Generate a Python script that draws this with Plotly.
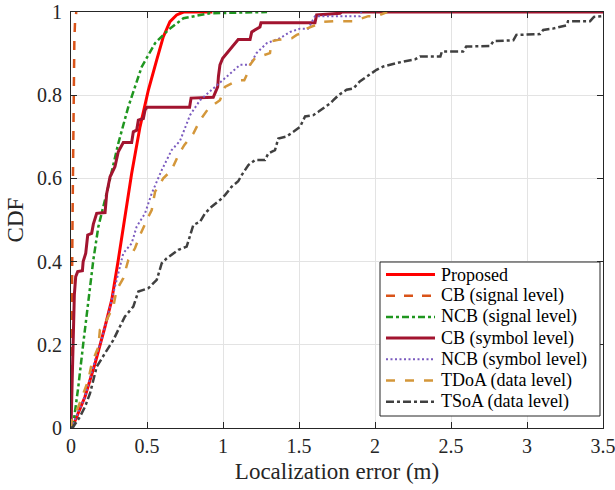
import plotly.graph_objects as go

# ---------------- data ----------------
proposed_x = [0, 0.015, 0.092, 0.158, 0.224, 0.268, 0.311, 0.344, 0.366, 0.399, 0.454, 0.509, 0.564, 0.607, 0.651, 0.695, 0.74, 0.93]
proposed_y = [0, 0.007, 0.075, 0.155, 0.244, 0.308, 0.404, 0.484, 0.53, 0.612, 0.724, 0.8125, 0.885, 0.94, 0.977, 0.993, 1.0, 1.0]

cb_sig_x = [0, 0.003, 0.006, 0.01, 0.014, 0.018, 0.022, 0.027, 0.035]
cb_sig_y = [0, 0.1, 0.3, 0.5, 0.7, 0.85, 0.93, 0.98, 1.0]

ncb_sig_x = [0.012, 0.048, 0.081, 0.114, 0.147, 0.18, 0.2, 0.245, 0.311, 0.377, 0.465, 0.553, 0.64, 0.74, 0.914, 1.29]
ncb_sig_y = [0, 0.099, 0.204, 0.30, 0.404, 0.484, 0.512, 0.58, 0.684, 0.772, 0.868, 0.925, 0.957, 0.985, 0.997, 1.0]

cb_sym_x = [0, 0.004, 0.015, 0.022, 0.031, 0.044, 0.075, 0.08, 0.097, 0.11, 0.136, 0.147, 0.169, 0.224, 0.235,
            0.257, 0.289, 0.311, 0.344, 0.399, 0.41, 0.432, 0.443, 0.476, 0.487, 0.5, 0.78, 0.79, 0.936, 0.965,
            0.97, 0.98, 0.998, 1.024, 1.046, 1.079, 1.1, 1.178, 1.189, 1.243, 1.25, 1.605, 1.616, 1.77, 1.78, 3.5]
cb_sym_y = [0, 0.075, 0.2, 0.32, 0.364, 0.376, 0.378, 0.40, 0.42, 0.464, 0.468, 0.49, 0.516, 0.518, 0.564,
            0.604, 0.628, 0.664, 0.686, 0.686, 0.712, 0.716, 0.74, 0.744, 0.764, 0.771, 0.771, 0.793, 0.795, 0.82,
            0.845, 0.873, 0.889, 0.901, 0.909, 0.925, 0.934, 0.934, 0.952, 0.964, 0.974, 0.974, 0.993, 0.997, 1.0, 1.0]

ncb_sym_x = [0, 0.015, 0.092, 0.158, 0.213, 0.268, 0.311, 0.344, 0.399, 0.432, 0.487, 0.531, 0.597, 0.662, 0.717,
             0.783, 0.849, 0.936, 1.0, 1.068, 1.112, 1.178, 1.22, 1.288, 1.375, 1.441, 1.507, 1.56, 1.605, 1.9, 1.91]
ncb_sym_y = [0, 0.011, 0.075, 0.163, 0.228, 0.308, 0.372, 0.42, 0.444, 0.484, 0.516, 0.564, 0.62, 0.668, 0.69,
             0.752, 0.788, 0.816, 0.836, 0.857, 0.873, 0.873, 0.901, 0.925, 0.937, 0.952, 0.96, 0.96, 0.99, 0.99, 1.0]

tdoa_x = [0, 0.004, 0.048, 0.114, 0.136, 0.18, 0.19, 0.235, 0.279, 0.3, 0.344, 0.377, 0.421, 0.454, 0.52, 0.531,
          0.553, 0.607, 0.662, 0.706, 0.745, 0.805, 0.849, 0.904, 0.98, 1.013, 1.1, 1.14, 1.167, 1.178, 1.21, 1.243,
          1.309, 1.32, 1.364, 1.452, 1.485, 1.54, 1.55, 1.638, 1.65, 1.726, 1.857, 1.956, 2.01, 2.08]
tdoa_y = [0, 0.019, 0.051, 0.115, 0.155, 0.195, 0.236, 0.26, 0.292, 0.332, 0.36, 0.404, 0.432, 0.464, 0.516, 0.524,
          0.568, 0.6, 0.62, 0.656, 0.68, 0.708, 0.74, 0.768, 0.788, 0.82, 0.836, 0.836, 0.857, 0.873, 0.889, 0.893,
          0.901, 0.93, 0.933, 0.937, 0.945, 0.952, 0.96, 0.973, 0.976, 0.978, 0.978, 0.99, 0.99, 1.0]

tsoa_x = [0, 0.015, 0.059, 0.092, 0.125, 0.169, 0.224, 0.278, 0.311, 0.355, 0.41, 0.443, 0.509, 0.564, 0.597,
          0.63, 0.706, 0.761, 0.805, 0.849, 0.882, 0.925, 0.98, 1.013, 1.057, 1.1, 1.123, 1.167, 1.211, 1.276,
          1.298, 1.342, 1.364, 1.419, 1.463, 1.507, 1.54, 1.594, 1.627, 1.66, 1.704, 1.726, 1.76, 1.813, 1.857,
          1.9, 1.945, 2.01, 2.055, 2.099, 2.175, 2.263, 2.296, 2.43, 2.44, 2.58, 2.6, 2.757, 2.78, 2.91,
          2.93, 3.086, 3.107, 3.17, 3.26, 3.27, 3.415, 3.44, 3.5]
tsoa_y = [0, 0.003, 0.027, 0.051, 0.083, 0.147, 0.18, 0.211, 0.236, 0.268, 0.292, 0.328, 0.336, 0.356, 0.396,
          0.408, 0.428, 0.436, 0.488, 0.496, 0.516, 0.532, 0.548, 0.56, 0.58, 0.593, 0.608, 0.632, 0.644, 0.644,
          0.66, 0.668, 0.696, 0.701, 0.712, 0.724, 0.749, 0.752, 0.76, 0.768, 0.78, 0.788, 0.8, 0.813, 0.816,
          0.833, 0.845, 0.861, 0.869, 0.873, 0.88, 0.886, 0.893, 0.893, 0.905, 0.905, 0.917, 0.918, 0.93, 0.932,
          0.945, 0.947, 0.957, 0.96, 0.968, 0.978, 0.978, 0.988, 0.99]

series_names = ["Proposed", "CB (signal level)", "NCB (signal level)", "CB (symbol level)",
                "NCB (symbol level)", "TDoA (data level)", "TSoA (data level)"]

x_tickvals = [0, 0.5, 1, 1.5, 2, 2.5, 3, 3.5]
x_ticktext = ["0", "0.5", "1", "1.5", "2", "2.5", "3", "3.5"]
y_tickvals = [0, 0.2, 0.4, 0.6, 0.8, 1]
y_ticktext = ["0", "0.2", "0.4", "0.6", "0.8", "1"]

# ---------------- styles ----------------
styles = [
    dict(color="#FF0000", width=3, dash="solid"),
    dict(color="#D95319", width=2.5, dash="9px,9px"),
    dict(color="#1F961F", width=2.5, dash="7px,3px,3px,3px"),
    dict(color="#A2142F", width=3, dash="solid"),
    dict(color="#7B5BBF", width=2, dash="2px,2.5px"),
    dict(color="#D4973A", width=2.5, dash="9px,10px"),
    dict(color="#404040", width=2.5, dash="8px,3px,3px,3px"),
]

data = [
    (proposed_x, proposed_y),
    (cb_sig_x, cb_sig_y),
    (ncb_sig_x, ncb_sig_y),
    (cb_sym_x, cb_sym_y),
    (ncb_sym_x, ncb_sym_y),
    (tdoa_x, tdoa_y),
    (tsoa_x, tsoa_y),
]

for (xs, ys) in data:
    assert len(xs) == len(ys), (len(xs), len(ys))

fig = go.Figure()
for name, (xs, ys), st in zip(series_names, data, styles):
    fig.add_trace(go.Scatter(x=xs, y=ys, mode="lines", name=name, line=st, showlegend=False))

FONT = "Liberation Serif, Times New Roman, serif"
AXC = "#262626"

# plot-area geometry (pixels)
W, H = 615, 490
ML, MR, MT, MB = 71, 12, 12, 62
PW, PH = W - ML - MR, H - MT - MB


def px_to_paper(px, py):
    return (px - ML) / PW, (H - MB - py) / PH


# ---------------- legend box (drawn in paper coordinates) ----------------
leg_left, leg_right, leg_top, leg_bot = 380, 600, 262, 416
x0, y0 = px_to_paper(leg_left, leg_bot)
x1, y1 = px_to_paper(leg_right, leg_top)
shapes = [dict(type="rect", xref="paper", yref="paper", x0=x0, y0=y0, x1=x1, y1=y1,
               line=dict(color=AXC, width=1), fillcolor="white", layer="above")]
annotations = []
row_y0, row_step = 274.5, 21.2
for i, (name, st) in enumerate(zip(series_names, styles)):
    py = row_y0 + i * row_step
    lx0, ly = px_to_paper(386, py)
    lx1, _ = px_to_paper(435, py)
    shapes.append(dict(type="line", xref="paper", yref="paper", x0=lx0, x1=lx1, y0=ly, y1=ly,
                       line=dict(color=st["color"], width=st["width"], dash=st["dash"]), layer="above"))
    tx, _ = px_to_paper(439, py)
    annotations.append(dict(xref="paper", yref="paper", x=tx, y=ly, xanchor="left", yanchor="middle",
                            text=name, showarrow=False,
                            font=dict(family=FONT, size=18, color="black")))

fig.update_layout(
    width=W, height=H,
    margin=dict(l=ML, r=MR, t=MT, b=MB, autoexpand=False),
    paper_bgcolor="white", plot_bgcolor="white",
    font=dict(family=FONT, color=AXC, size=20),
    showlegend=False,
    shapes=shapes,
    annotations=annotations,
)

fig.update_xaxes(
    range=[0, 3.5], tickvals=x_tickvals, ticktext=x_ticktext, automargin=False,
    ticklabeloverflow="allow",
    ticks="inside", ticklen=6, tickcolor=AXC, showline=True, linecolor=AXC, linewidth=1,
    mirror="ticks", showgrid=True, gridcolor="#E3E3E3", gridwidth=1, zeroline=False,
    tickfont=dict(family=FONT, size=20, color=AXC),
    title=dict(text="Localization error (m)", font=dict(family=FONT, size=23, color=AXC), standoff=6),
)
fig.update_yaxes(
    range=[0, 1], tickvals=y_tickvals, ticktext=y_ticktext, automargin=False,
    ticklabeloverflow="allow",
    ticks="inside", ticklen=6, tickcolor=AXC, showline=True, linecolor=AXC, linewidth=1,
    mirror="ticks", showgrid=True, gridcolor="#E3E3E3", gridwidth=1, zeroline=False,
    tickfont=dict(family=FONT, size=20, color=AXC), ticklabelstandoff=4,
    title=dict(text="CDF", font=dict(family=FONT, size=23, color=AXC), standoff=6),
)

fig.write_html(
    "out.html",
    config=dict(displayModeBar=False),
    post_script="document.body.style.margin='0';document.body.style.overflow='hidden';",
)
